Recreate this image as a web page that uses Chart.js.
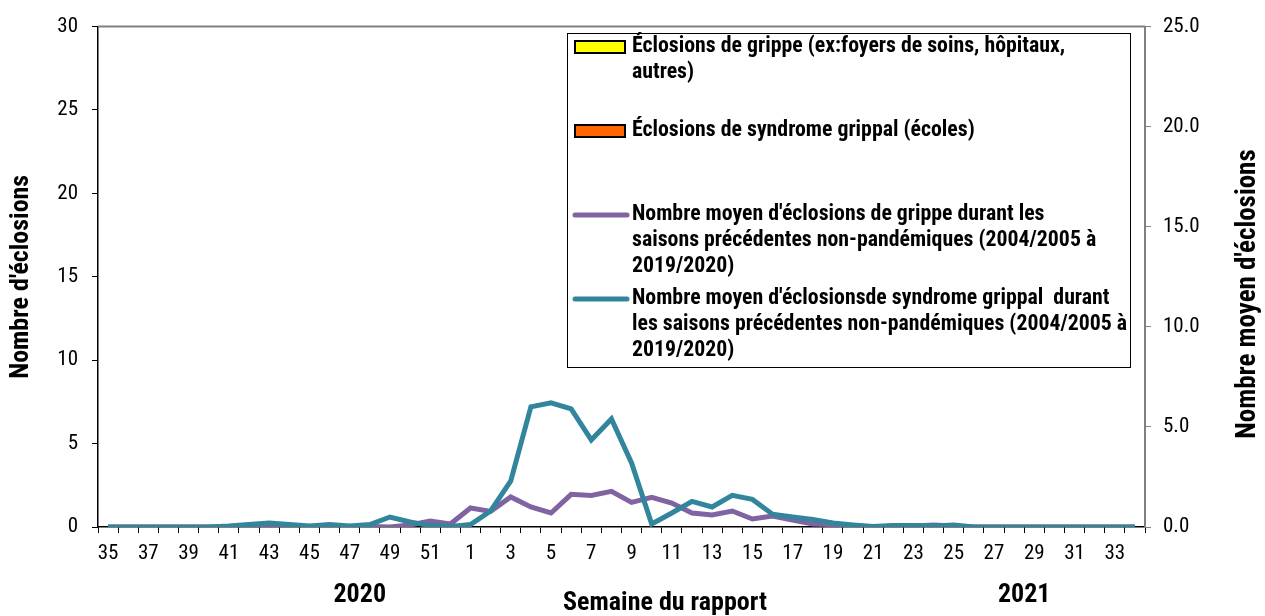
<!DOCTYPE html>
<html>
<head>
<meta charset="utf-8">
<script src="https://cdn.jsdelivr.net/npm/chart.js@4.4.0/dist/chart.umd.min.js"></script>
<style>
  html, body { margin: 0; padding: 0; background: #fff; }
  #wrap { width: 1265px; height: 616px; }
</style>
</head>
<body>
<div id="wrap"><canvas id="myChart"></canvas></div>
<script>
// week numbers, 2020 week 35 through 2021 week 34
const weeks = ["35","36","37","38","39","40","41","42","43","44","45","46","47","48","49","50","51","52",
  "1","2","3","4","5","6","7","8","9","10","11","12","13","14","15","16","17","18","19","20",
  "21","22","23","24","25","26","27","28","29","30","31","32","33","34"];

// current season outbreaks (none reported)
const fluOutbreaks = new Array(52).fill(0);
const iliOutbreaks = new Array(52).fill(0);

// mean of previous non-pandemic seasons (right axis)
const fluMean = [0,0,0,0,0,0,0,0,0.1,0.05,0.02,0.05,0,0.02,0,0.1,0.3,0.15,
  0.95,0.78,1.5,1.0,0.7,1.63,1.58,1.78,1.23,1.48,1.2,0.7,0.6,0.8,0.4,0.55,0.35,0.15,0.12,0.05,
  0,0.05,0.05,0.1,0.05,0,0,0,0,0,0,0,0,0];
const iliMean = [0,0,0,0,0,0,0.05,0.13,0.2,0.13,0.05,0.12,0.05,0.12,0.5,0.25,0.07,0.02,
  0.12,0.8,2.3,6.0,6.2,5.9,4.35,5.4,3.2,0.15,0.7,1.28,1.0,1.58,1.38,0.64,0.5,0.38,0.2,0.1,
  0.02,0.08,0.08,0.05,0.1,0,0,0,0,0,0,0,0,0];

const legendLabels = [
  ["Éclosions de grippe (ex:foyers de soins, hôpitaux,", "autres)"],
  ["Éclosions de syndrome grippal (écoles)"],
  ["Nombre moyen d'éclosions de grippe durant les", "saisons précédentes non-pandémiques (2004/2005 à", "2019/2020)"],
  ["Nombre moyen d'éclosionsde syndrome grippal  durant", "les saisons précédentes non-pandémiques (2004/2005 à", "2019/2020)"]
];
const yearLabels = ["2020", "2021"];

// Roboto in its condensed face stands in for Arial Narrow
const FONT = "Roboto, sans-serif";
Chart.defaults.font.family = FONT;
Chart.defaults.font.weight = "condensed";
Chart.defaults.color = "#000";
const BOLD = "condensed bold";

// legend box, top border, axis titles and year labels
const extras = {
  id: "extras",
  afterDraw(chart, args, opts) {
    const ctx = chart.ctx;
    const area = chart.chartArea;
    ctx.save();

    // top border of plot area
    ctx.strokeStyle = "#808080";
    ctx.lineWidth = 2;
    ctx.beginPath();
    ctx.moveTo(area.left, area.top);
    ctx.lineTo(area.right, area.top);
    ctx.stroke();

    // legend
    const lg = opts.legend;
    ctx.fillStyle = "#fff";
    ctx.fillRect(lg.x, lg.y, lg.w, lg.h);
    ctx.strokeStyle = "#000";
    ctx.lineWidth = 1;
    ctx.strokeRect(lg.x + 0.5, lg.y + 0.5, lg.w, lg.h);
    ctx.font = BOLD + " 21.8px " + FONT;
    ctx.textBaseline = "middle";
    ctx.textAlign = "left";
    chart.data.datasets.forEach((ds, i) => {
      const cy = lg.y + lg.first + i * lg.slot;
      if (ds.type === "bar") {
        ctx.fillStyle = ds.backgroundColor;
        ctx.fillRect(lg.x + 8, cy - 6, 50, 12);
        ctx.strokeStyle = "#000";
        ctx.lineWidth = 2;
        ctx.strokeRect(lg.x + 8, cy - 6, 50, 12);
      } else {
        ctx.strokeStyle = ds.borderColor;
        ctx.lineWidth = 5;
        ctx.lineCap = "round";
        ctx.beginPath();
        ctx.moveTo(lg.x + 8, cy);
        ctx.lineTo(lg.x + 60, cy);
        ctx.stroke();
      }
      ctx.fillStyle = "#000";
      legendLabels[i].forEach((line, j) => {
        ctx.fillText(line, lg.x + 65, cy + j * lg.lineH);
      });
    });

    // year labels and week axis title
    ctx.font = BOLD + " 26px " + FONT;
    ctx.textAlign = "center";
    const xs = chart.scales.x;
    yearLabels.forEach((t, i) => {
      ctx.fillText(t, xs.getPixelForValue(opts.yearAt[i]), opts.yearY);
    });
    ctx.fillText(opts.xTitle, opts.xTitleX, opts.xTitleY);

    // right axis title, reading upwards
    ctx.font = BOLD + " 27px " + FONT;
    ctx.translate(opts.rightTitleX, opts.rightTitleY);
    ctx.rotate(-Math.PI / 2);
    ctx.fillText(opts.rightTitle, 0, 0);
    ctx.restore();
  }
};

new Chart(document.getElementById("myChart"), {
  data: {
    labels: weeks,
    datasets: [
      { type: "bar", label: "Éclosions de grippe", data: fluOutbreaks, yAxisID: "y",
        backgroundColor: "#FFFF00", borderColor: "#000", borderWidth: 0, order: 3 },
      { type: "bar", label: "Éclosions de syndrome grippal", data: iliOutbreaks, yAxisID: "y",
        backgroundColor: "#FF6600", borderColor: "#000", borderWidth: 0, order: 4 },
      { type: "line", label: "Moyenne grippe", data: fluMean, yAxisID: "yR",
        borderColor: "#8064A2", borderWidth: 5, pointRadius: 0, tension: 0, order: 2 },
      { type: "line", label: "Moyenne syndrome grippal", data: iliMean, yAxisID: "yR",
        borderColor: "#31859C", borderWidth: 5, pointRadius: 0, tension: 0, order: 1 }
    ]
  },
  options: {
    responsive: true,
    maintainAspectRatio: false,
    animation: false,
    layout: { padding: { top: 21, left: 0, right: 0, bottom: 0 } },
    scales: {
      x: {
        offset: true,
        grid: { offset: true, drawOnChartArea: false, tickLength: 6, color: "#000" },
        border: { color: "#000", width: 1.5 },
        ticks: {
          autoSkip: false, maxRotation: 0, padding: 8,
          font: { size: 21 },
          callback: function (v, i) { return i % 2 === 0 ? this.getLabelForValue(v) : ""; }
        },
        afterFit: s => { s.height = 89; }
      },
      y: {
        position: "left", min: 0, max: 30,
        grid: { drawOnChartArea: false, tickLength: 6, color: "#000" },
        border: { color: "#000", width: 1.5 },
        ticks: { stepSize: 5, padding: 14, font: { size: 21 } },
        title: { display: true, text: "Nombre d'éclosions", font: { size: 26, weight: BOLD },
          padding: { top: 6, bottom: 0 }, align: "center" },
        afterFit: s => { s.width = 98; }
      },
      yR: {
        position: "right", min: 0, max: 25,
        grid: { drawOnChartArea: false, tickLength: 6, color: "#808080" },
        border: { color: "#808080", width: 2 },
        ticks: { stepSize: 5, padding: 12, font: { size: 21 }, callback: v => v.toFixed(1) },
        afterFit: s => { s.width = 120; }
      }
    },
    plugins: {
      legend: { display: false },
      tooltip: { enabled: false },
      extras: {
        legend: { x: 567, y: 33, w: 563, h: 334, first: 14, slot: 84, lineH: 26 },
        yearAt: [12.5, 45.5],
        yearY: 595,
        xTitle: "Semaine du rapport",
        xTitleX: 665,
        xTitleY: 603,
        rightTitle: "Nombre moyen d'éclosions",
        rightTitleX: 1248,
        rightTitleY: 294
      }
    }
  },
  plugins: [extras]
});
</script>
</body>
</html>
